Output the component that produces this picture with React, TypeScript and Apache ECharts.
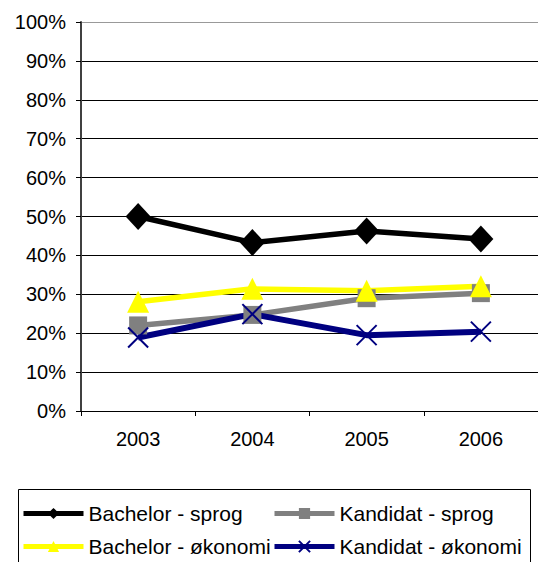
import React, { useEffect, useRef } from "react";
import * as echarts from "echarts";

const years = ["2003", "2004", "2005", "2006"];
const bachelorSprog = [50.0, 43.3, 46.3, 44.2];
const kandidatSprog = [22.0, 24.7, 29.0, 30.3];
const bachelorOkonomi = [28.1, 31.4, 30.9, 32.1];
const kandidatOkonomi = [18.9, 24.9, 19.5, 20.4];
const seriesNames = ["Bachelor - sprog", "Kandidat - sprog", "Bachelor - økonomi", "Kandidat - økonomi"];

const FONT = "'Liberation Sans', Arial, sans-serif";

export default function App() {
  const ref = useRef<HTMLDivElement>(null);
  useEffect(() => {
    if (!ref.current) return;
    const chart = echarts.init(ref.current, undefined, { renderer: "svg" });
    const crossPath = "path://M0,0L10,10M10,0L0,10";
    const legendText = { fontFamily: FONT, fontSize: 21, color: "#000" };
    const legendCommon = {
      orient: "vertical",
      top: 503,
      itemWidth: 60,
      itemHeight: 14,
      itemGap: 12,
      textStyle: legendText,
      selectedMode: false,
      padding: 0,
      lineStyle: { width: 5 },
    };
    chart.setOption({
      animation: false,
      backgroundColor: "#fff",
      textStyle: { fontFamily: FONT },
      grid: { left: 81, top: 22, width: 460, height: 389, containLabel: false },
      xAxis: {
        type: "category",
        data: years,
        boundaryGap: true,
        axisLine: { lineStyle: { color: "#000", width: 1 } },
        axisTick: { show: true, length: 5, lineStyle: { color: "#000" } },
        axisLabel: { fontFamily: FONT, fontSize: 20, color: "#000", margin: 18 },
        splitLine: { show: false },
      },
      yAxis: {
        type: "value",
        min: 0,
        max: 100,
        interval: 10,
        axisLine: { show: true, lineStyle: { color: "#404040", width: 2 } },
        axisTick: { show: true, length: 5, lineStyle: { color: "#000" } },
        axisLabel: { fontFamily: FONT, fontSize: 20, color: "#000", margin: 15, formatter: "{value}%" },
        splitLine: {
          show: true,
          lineStyle: { color: ["#000", "#000", "#000", "#000", "#000", "#000", "#000", "#000", "#000", "#000", "#999"], width: 1 },
        },
      },
      legend: [
        { ...legendCommon, data: [seriesNames[0], seriesNames[2]], left: 21 },
        { ...legendCommon, data: [seriesNames[1], seriesNames[3]], left: 272 },
      ],
      graphic: [
        {
          type: "rect",
          left: 16,
          top: 487,
          shape: { width: 512, height: 100 },
          style: { fill: "none", stroke: "#000", lineWidth: 1 },
          z: -1,
        },
      ],
      series: [
        {
          name: seriesNames[0],
          type: "line",
          data: bachelorSprog,
          symbol: "diamond",
          symbolSize: [25, 27],
          lineStyle: { color: "#000", width: 5.5 },
          itemStyle: { color: "#000" },
        },
        {
          name: seriesNames[1],
          type: "line",
          data: kandidatSprog,
          symbol: "rect",
          symbolSize: 18,
          lineStyle: { color: "#808080", width: 5.5 },
          itemStyle: { color: "#808080" },
        },
        {
          name: seriesNames[2],
          type: "line",
          data: bachelorOkonomi,
          symbol: "triangle",
          symbolSize: [22, 22],
          lineStyle: { color: "#FFFF00", width: 5.5 },
          itemStyle: { color: "#FFFF00" },
        },
        {
          name: seriesNames[3],
          type: "line",
          data: kandidatOkonomi,
          symbol: crossPath,
          symbolSize: 20,
          lineStyle: { color: "#000080", width: 6 },
          itemStyle: { color: "#000080", borderColor: "#000080", borderWidth: 2 },
        },
      ],
    });
    return () => chart.dispose();
  }, []);
  return (
    <div
      ref={ref}
      style={{ position: "fixed", left: 0, top: 0, width: 538, height: 562, background: "#fff" }}
    />
  );
}
